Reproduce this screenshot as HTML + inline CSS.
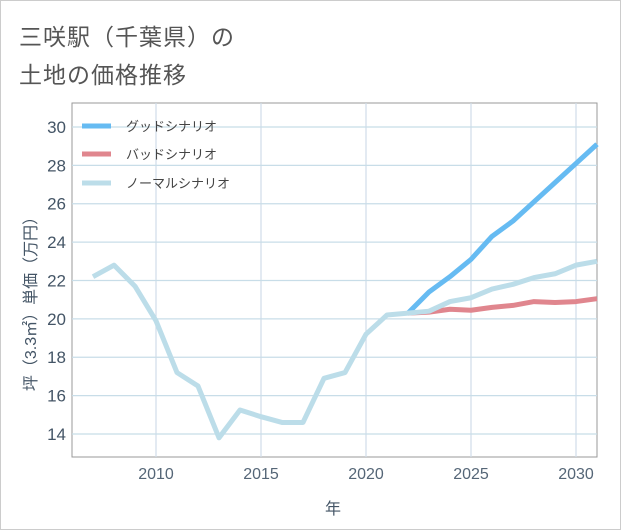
<!DOCTYPE html>
<html><head><meta charset="utf-8"><style>
body{margin:0;background:#fff;}
#wrap{position:relative;width:619px;height:528px;border:1px solid #ccc;background:#fff;font-family:"Liberation Sans","Noto Sans CJK JP",sans-serif;}
.t{position:absolute;left:18px;font-size:23px;color:#555;letter-spacing:1px;}
</style></head><body>
<div id="wrap">
<div class="t" style="top:17px">三咲駅（千葉県）の</div>
<div class="t" style="top:55px">土地の価格推移</div>
<svg id="c" width="621" height="530" style="position:absolute;left:-1px;top:-1px"></svg>
</div>
<script>
const years=[2007,2008,2009,2010,2011,2012,2013,2014,2015,2016,2017,2018,2019,2020,2021,2022,2023,2024,2025,2026,2027,2028,2029,2030,2031];
const normal=[22.2,22.8,21.7,19.9,17.2,16.5,13.8,15.25,14.9,14.6,14.6,16.9,17.2,19.2,20.2,20.3,20.4,20.9,21.1,21.55,21.8,22.15,22.35,22.8,23.0];
const scenYears=[2022,2023,2024,2025,2026,2027,2028,2029,2030,2031];
const good=[20.3,21.4,22.2,23.1,24.3,25.1,26.1,27.1,28.1,29.1];
const bad=[20.3,20.35,20.5,20.45,20.6,20.7,20.9,20.85,20.9,21.05];
const xTicks=[2010,2015,2020,2025,2030];
const yTicks=[14,16,18,20,22,24,26,28,30];
const L=72,R=597,T=103,B=457,X0=2006,X1=2031,Y0=12.8,Y1=31.25;
const sx=v=>L+(v-X0)/(X1-X0)*(R-L), sy=v=>B-(v-Y0)/(Y1-Y0)*(B-T);
const svg=document.getElementById('c'),NS='http://www.w3.org/2000/svg';
function mk(t,a,p){const e=document.createElementNS(NS,t);for(const k in a)e.setAttribute(k,a[k]);(p||svg).appendChild(e);return e;}
let e;
e=mk('rect',{x:L,y:T,width:R-L,height:B-T,fill:'#fff',stroke:'#999','stroke-width':1});


xTicks.forEach(v=>{
 e=mk('line',{x1:sx(v),x2:sx(v),y1:T,y2:B,stroke:'#d0dce8','stroke-width':1.2});
 
 
 e=mk('text',{x:sx(v),y:479,'text-anchor':'middle','font-size':16,fill:'#556677'});e.textContent=v;
 
 
});
yTicks.forEach(v=>{
 e=mk('line',{x1:L,x2:R,y1:sy(v),y2:sy(v),stroke:'#c8dde8','stroke-width':1.2});
 
 
 e=mk('text',{x:66,y:sy(v)+6,'text-anchor':'end','font-size':17,fill:'#445566'});e.textContent=v;
 
 
});
function line(xs,ys,col,name){
 const d=xs.map((x,i)=>(i?'L':'M')+sx(x)+','+sy(ys[i])).join('');
 const p=mk('path',{d:d,fill:'none',stroke:col,'stroke-width':5,'stroke-linejoin':'round'});
 
 
}
line(scenYears,bad,'#e0868e','bad-scenario-line');
line(scenYears,good,'#66bbf2','good-scenario-line');
line(years,normal,'#bcdde9','normal-scenario-line');
[['グッドシナリオ','#66bbf2',126],['バッドシナリオ','#e0868e',154],['ノーマルシナリオ','#bcdde9',183]].forEach(([t,c,y])=>{
 e=mk('line',{x1:82,x2:111,y1:y,y2:y,stroke:c,'stroke-width':5});
 
 
 e=mk('text',{x:126,y:y+5,'font-size':13,fill:'#444'});e.textContent=t;
 
 
});
e=mk('text',{x:333,y:514,'text-anchor':'middle','font-size':16,fill:'#445566'});e.textContent='年';


e=mk('text',{x:0,y:0,'text-anchor':'middle','font-size':16,fill:'#445566',transform:'translate(36,300) rotate(-90)'});e.textContent='坪（3.3㎡）単価（万円）';


</script>
</body></html>
